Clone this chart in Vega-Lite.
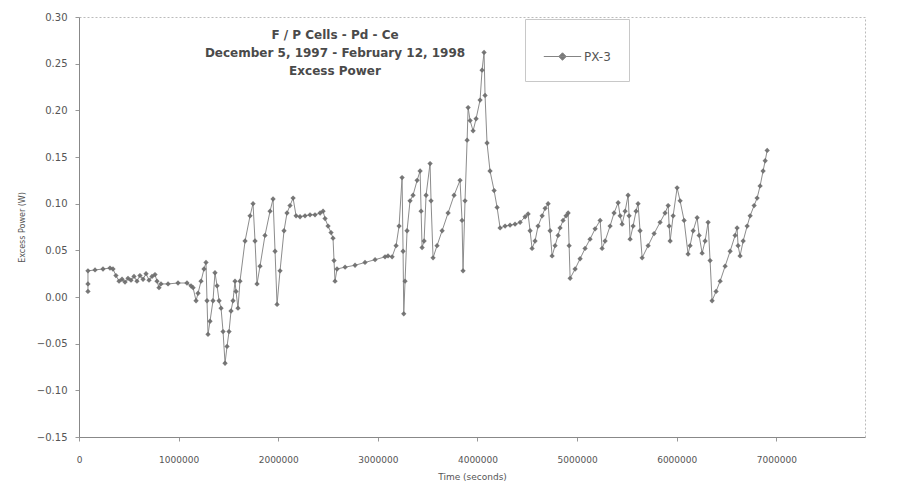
{
  "$schema": "https://vega.github.io/schema/vega-lite/v6.json",
  "width": 786,
  "height": 420,
  "autosize": {"type": "none"},
  "padding": {"left": 79, "top": 17, "right": 42, "bottom": 57},
  "background": "white",
  "config": {
    "font": "DejaVu Sans",
    "view": {"stroke": "#bbbbbb", "strokeDash": [2, 2], "strokeWidth": 1}
  },
  "title": {
    "text": ["F / P Cells - Pd - Ce", "December 5, 1997 - February 12, 1998", "Excess Power"],
    "orient": "top",
    "anchor": "middle",
    "frame": "group",
    "baseline": "top",
    "dx": -137,
    "dy": 70,
    "font": "DejaVu Sans",
    "fontSize": 12,
    "fontWeight": "bold",
    "color": "#4a4a4a",
    "lineHeight": 18
  },
  "data": {
    "values": [
      {"t": 90000, "p": 0.006}, {"t": 90000, "p": 0.014}, {"t": 90000, "p": 0.028},
      {"t": 161000, "p": 0.029}, {"t": 241000, "p": 0.030}, {"t": 311000, "p": 0.031},
      {"t": 341000, "p": 0.030}, {"t": 371000, "p": 0.023}, {"t": 402000, "p": 0.017},
      {"t": 432000, "p": 0.019}, {"t": 462000, "p": 0.016}, {"t": 492000, "p": 0.020},
      {"t": 522000, "p": 0.018}, {"t": 552000, "p": 0.022}, {"t": 582000, "p": 0.017},
      {"t": 612000, "p": 0.023}, {"t": 643000, "p": 0.019}, {"t": 673000, "p": 0.025},
      {"t": 703000, "p": 0.018}, {"t": 733000, "p": 0.022}, {"t": 763000, "p": 0.024},
      {"t": 783000, "p": 0.017}, {"t": 803000, "p": 0.010}, {"t": 823000, "p": 0.014},
      {"t": 894000, "p": 0.014}, {"t": 994000, "p": 0.015}, {"t": 1084000, "p": 0.015},
      {"t": 1124000, "p": 0.012}, {"t": 1145000, "p": 0.010}, {"t": 1175000, "p": -0.004},
      {"t": 1195000, "p": 0.004}, {"t": 1225000, "p": 0.017}, {"t": 1255000, "p": 0.030},
      {"t": 1275000, "p": 0.037}, {"t": 1285000, "p": -0.004}, {"t": 1295000, "p": -0.040},
      {"t": 1315000, "p": -0.026}, {"t": 1345000, "p": -0.004}, {"t": 1365000, "p": 0.026},
      {"t": 1386000, "p": 0.012}, {"t": 1406000, "p": -0.004}, {"t": 1426000, "p": -0.012},
      {"t": 1446000, "p": -0.037}, {"t": 1466000, "p": -0.071}, {"t": 1486000, "p": -0.053},
      {"t": 1506000, "p": -0.037}, {"t": 1526000, "p": -0.015}, {"t": 1546000, "p": -0.004},
      {"t": 1566000, "p": 0.017}, {"t": 1576000, "p": 0.006}, {"t": 1596000, "p": -0.012},
      {"t": 1616000, "p": 0.017}, {"t": 1667000, "p": 0.060}, {"t": 1717000, "p": 0.087},
      {"t": 1747000, "p": 0.100}, {"t": 1767000, "p": 0.060}, {"t": 1787000, "p": 0.014},
      {"t": 1817000, "p": 0.033}, {"t": 1867000, "p": 0.066}, {"t": 1918000, "p": 0.092},
      {"t": 1948000, "p": 0.105}, {"t": 1968000, "p": 0.049}, {"t": 1988000, "p": -0.008},
      {"t": 2018000, "p": 0.028}, {"t": 2058000, "p": 0.071}, {"t": 2088000, "p": 0.090},
      {"t": 2118000, "p": 0.098}, {"t": 2149000, "p": 0.106}, {"t": 2179000, "p": 0.087},
      {"t": 2219000, "p": 0.086}, {"t": 2269000, "p": 0.087}, {"t": 2319000, "p": 0.088},
      {"t": 2369000, "p": 0.088}, {"t": 2420000, "p": 0.090}, {"t": 2450000, "p": 0.092},
      {"t": 2470000, "p": 0.084}, {"t": 2500000, "p": 0.076}, {"t": 2530000, "p": 0.069},
      {"t": 2550000, "p": 0.063}, {"t": 2560000, "p": 0.039}, {"t": 2570000, "p": 0.017},
      {"t": 2590000, "p": 0.030}, {"t": 2671000, "p": 0.032}, {"t": 2771000, "p": 0.034},
      {"t": 2871000, "p": 0.037}, {"t": 2972000, "p": 0.040}, {"t": 3072000, "p": 0.043},
      {"t": 3102000, "p": 0.044}, {"t": 3143000, "p": 0.043}, {"t": 3183000, "p": 0.055},
      {"t": 3213000, "p": 0.076}, {"t": 3243000, "p": 0.128}, {"t": 3253000, "p": 0.049},
      {"t": 3260000, "p": -0.018}, {"t": 3273000, "p": 0.017}, {"t": 3293000, "p": 0.071},
      {"t": 3323000, "p": 0.103}, {"t": 3353000, "p": 0.109}, {"t": 3394000, "p": 0.125},
      {"t": 3424000, "p": 0.135}, {"t": 3434000, "p": 0.092}, {"t": 3444000, "p": 0.053},
      {"t": 3464000, "p": 0.060}, {"t": 3484000, "p": 0.109}, {"t": 3524000, "p": 0.143},
      {"t": 3534000, "p": 0.103}, {"t": 3554000, "p": 0.042}, {"t": 3594000, "p": 0.055},
      {"t": 3645000, "p": 0.071}, {"t": 3705000, "p": 0.090}, {"t": 3765000, "p": 0.109},
      {"t": 3825000, "p": 0.125}, {"t": 3845000, "p": 0.082}, {"t": 3855000, "p": 0.028},
      {"t": 3875000, "p": 0.103}, {"t": 3896000, "p": 0.168}, {"t": 3906000, "p": 0.203},
      {"t": 3926000, "p": 0.189}, {"t": 3956000, "p": 0.178}, {"t": 3986000, "p": 0.191},
      {"t": 4026000, "p": 0.211}, {"t": 4046000, "p": 0.243}, {"t": 4066000, "p": 0.262},
      {"t": 4076000, "p": 0.216}, {"t": 4096000, "p": 0.165}, {"t": 4126000, "p": 0.135},
      {"t": 4167000, "p": 0.114}, {"t": 4197000, "p": 0.096}, {"t": 4227000, "p": 0.074},
      {"t": 4277000, "p": 0.076}, {"t": 4327000, "p": 0.077}, {"t": 4377000, "p": 0.078},
      {"t": 4428000, "p": 0.080}, {"t": 4478000, "p": 0.086}, {"t": 4508000, "p": 0.089},
      {"t": 4528000, "p": 0.071}, {"t": 4548000, "p": 0.052}, {"t": 4578000, "p": 0.060},
      {"t": 4608000, "p": 0.076}, {"t": 4649000, "p": 0.087}, {"t": 4679000, "p": 0.095},
      {"t": 4709000, "p": 0.100}, {"t": 4729000, "p": 0.071}, {"t": 4749000, "p": 0.044},
      {"t": 4779000, "p": 0.055}, {"t": 4809000, "p": 0.066}, {"t": 4829000, "p": 0.074},
      {"t": 4859000, "p": 0.082}, {"t": 4889000, "p": 0.087}, {"t": 4910000, "p": 0.090},
      {"t": 4920000, "p": 0.055}, {"t": 4930000, "p": 0.020}, {"t": 4980000, "p": 0.030},
      {"t": 5030000, "p": 0.041}, {"t": 5080000, "p": 0.052}, {"t": 5130000, "p": 0.062},
      {"t": 5181000, "p": 0.073}, {"t": 5231000, "p": 0.082}, {"t": 5251000, "p": 0.052},
      {"t": 5281000, "p": 0.060}, {"t": 5331000, "p": 0.076}, {"t": 5371000, "p": 0.090},
      {"t": 5412000, "p": 0.101}, {"t": 5432000, "p": 0.087}, {"t": 5452000, "p": 0.078},
      {"t": 5482000, "p": 0.092}, {"t": 5512000, "p": 0.109}, {"t": 5522000, "p": 0.087},
      {"t": 5532000, "p": 0.062}, {"t": 5562000, "p": 0.076}, {"t": 5592000, "p": 0.092},
      {"t": 5612000, "p": 0.100}, {"t": 5632000, "p": 0.071}, {"t": 5653000, "p": 0.042},
      {"t": 5713000, "p": 0.055}, {"t": 5773000, "p": 0.068}, {"t": 5833000, "p": 0.080},
      {"t": 5883000, "p": 0.090}, {"t": 5914000, "p": 0.098}, {"t": 5924000, "p": 0.076},
      {"t": 5934000, "p": 0.060}, {"t": 5964000, "p": 0.087}, {"t": 6004000, "p": 0.117},
      {"t": 6034000, "p": 0.103}, {"t": 6074000, "p": 0.082}, {"t": 6114000, "p": 0.046},
      {"t": 6134000, "p": 0.055}, {"t": 6165000, "p": 0.071}, {"t": 6205000, "p": 0.085},
      {"t": 6225000, "p": 0.066}, {"t": 6255000, "p": 0.047}, {"t": 6285000, "p": 0.060},
      {"t": 6315000, "p": 0.080}, {"t": 6335000, "p": 0.039}, {"t": 6355000, "p": -0.004},
      {"t": 6395000, "p": 0.006}, {"t": 6436000, "p": 0.017}, {"t": 6486000, "p": 0.033},
      {"t": 6536000, "p": 0.049}, {"t": 6586000, "p": 0.066}, {"t": 6606000, "p": 0.074},
      {"t": 6616000, "p": 0.055}, {"t": 6636000, "p": 0.044}, {"t": 6667000, "p": 0.060},
      {"t": 6707000, "p": 0.076}, {"t": 6737000, "p": 0.087}, {"t": 6777000, "p": 0.098},
      {"t": 6807000, "p": 0.106}, {"t": 6837000, "p": 0.119}, {"t": 6867000, "p": 0.135},
      {"t": 6888000, "p": 0.146}, {"t": 6908000, "p": 0.157}
    ]
  },
  "transform": [{"window": [{"op": "row_number", "as": "idx"}]}],
  "encoding": {
    "x": {
      "field": "t",
      "type": "quantitative",
      "scale": {"domain": [0, 7890000], "nice": false, "zero": false},
      "axis": {
        "title": "Time (seconds)",
        "values": [0, 1000000, 2000000, 3000000, 4000000, 5000000, 6000000, 7000000],
        "format": "d",
        "grid": false,
        "domainColor": "#888888",
        "tickColor": "#999999",
        "tickSize": 4,
        "labelPadding": 14,
        "labelFont": "DejaVu Sans",
        "labelFontSize": 9,
        "labelColor": "#555555",
        "labelFlush": false,
        "titleFont": "DejaVu Sans",
        "titleFontSize": 9,
        "titleFontWeight": "normal",
        "titleColor": "#555555",
        "titlePadding": 8,
        "titleX": 393
      }
    },
    "y": {
      "field": "p",
      "type": "quantitative",
      "scale": {"domain": [-0.15, 0.30], "nice": false, "zero": false},
      "axis": {
        "title": "Excess Power (W)",
        "values": [-0.15, -0.10, -0.05, 0, 0.05, 0.10, 0.15, 0.20, 0.25, 0.30],
        "format": ".2f",
        "grid": false,
        "domainColor": "#888888",
        "tickColor": "#999999",
        "tickSize": 4,
        "labelPadding": 8,
        "labelFont": "DejaVu Sans",
        "labelFontSize": 10,
        "labelColor": "#555555",
        "labelFlush": false,
        "titleFont": "DejaVu Sans",
        "titleFontSize": 8,
        "titleFontWeight": "normal",
        "titleColor": "#555555",
        "titlePadding": 10
      }
    }
  },
  "layer": [
    {
      "mark": {"type": "line", "strokeWidth": 1, "color": "#8c8c8c"},
      "encoding": {
        "order": {"field": "idx", "type": "quantitative"}
      }
    },
    {
      "mark": {"type": "point", "shape": "diamond", "filled": true, "size": 28, "color": "#6a6a6a", "opacity": 0.9},
      "encoding": {
        "color": {
          "datum": "PX-3",
          "type": "nominal",
          "scale": {"range": ["#6a6a6a"]},
          "legend": {
            "title": null,
            "orient": "none",
            "legendX": 446,
            "legendY": 2,
            "symbolType": "M-1,0H1M0,-0.2L0.2,0L0,0.2L-0.2,0Z",
            "symbolSize": 1400,
            "symbolStrokeWidth": 1,
            "symbolStrokeColor": "#777777",
            "symbolFillColor": "#666666",
            "labelFont": "DejaVu Sans",
            "labelFontSize": 12,
            "labelColor": "#555555",
            "labelOffset": 2,
            "strokeColor": "#c8c8c8",
            "padding": 18
          }
        }
      }
    }
  ]
}
